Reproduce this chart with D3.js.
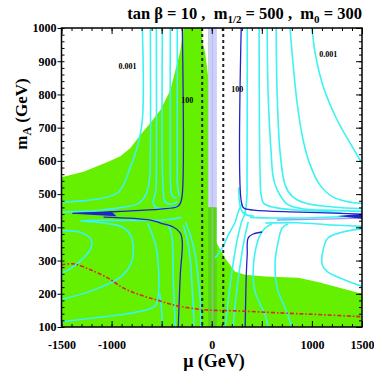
<!DOCTYPE html>
<html>
<head>
<meta charset="utf-8">
<script src="https://cdn.jsdelivr.net/npm/d3@7"></script>
<style>
body { margin: 0; background: #fff; }
text { font-family: "Liberation Serif", "Times New Roman", serif; font-weight: bold; }
</style>
</head>
<body>
<div id="chart"></div>
<script>

var width = 374;
var height = 376;

// axis ticks
var xTickLabels = [-1500, -1000, 0, 1000, 1500];
var yTickLabels = [100, 200, 300, 400, 500, 600, 700, 800, 900, 1000];

// white (allowed) regions, everything else in the frame is green
var whiteUpperLeft = [[-1500, 1000], [-1500, 551], [-1280, 567], [-1040, 597], [-912, 614], [-812, 639],
  [-713, 678], [-613, 714], [-513, 753], [-414, 813], [-344, 895], [-314, 930], [-284, 994], [-280, 1000]];
var whiteTopSliver = [[-95, 1000], [-35, 1000], [-35, 850], [-65, 925], [-95, 960]];
var whiteRight = [[45, 1000], [45, 400], [40, 358], [90, 330], [135, 306], [234, 266], [334, 257], [533, 252],
  [862, 248], [1050, 236], [1201, 224], [1350, 212], [1500, 200], [1500, 1000]];
var lavenderBand = [-35, 50];
var lavenderBottom = 460;

// contours
var cyanContours = [
  [[-693, 1000], [-693, 723], [-743, 642], [-812, 582], [-882, 527], [-932, 506], [-1042, 491], [-1211, 482], [-1500, 476]],
  [[-613, 1000], [-613, 620], [-622, 545], [-655, 500], [-730, 472], [-900, 460], [-1100, 452], [-1300, 448], [-1500, 446]],
  [[-553, 1000], [-553, 570], [-560, 505], [-585, 474], [-555, 460], [-450, 457], [-330, 463]],
  [[-493, 1000], [-493, 570], [-482, 505], [-470, 478], [-420, 470], [-340, 478]],
  [[-414, 1000], [-414, 600], [-410, 525], [-395, 495], [-350, 487]],
  [[-344, 1000], [-344, 620], [-340, 520], [-322, 495]],
  [[-1500, 390], [-1310, 385], [-1200, 360], [-1210, 335], [-1290, 305], [-1400, 278], [-1500, 262]],
  [[-1500, 183], [-1181, 211], [-912, 250], [-812, 287], [-782, 326], [-812, 377], [-892, 401], [-1081, 413],
   [-1250, 418], [-1310, 420], [-1000, 421], [-700, 421], [-450, 423], [-300, 430]],
  [[-1500, 116], [-1180, 127], [-842, 140], [-650, 152], [-560, 165], [-530, 205], [-530, 263], [-555, 341], [-613, 392], [-640, 412]],
  [[-493, 100], [-500, 150], [-518, 200]],
  [[-364, 100], [-384, 241], [-394, 362], [-414, 392], [-440, 410]],
  [[-110, 100], [-115, 181], [-135, 241], [-164, 317], [-214, 377], [-264, 416]],
  [[-174, 100], [-194, 211], [-214, 302], [-244, 362], [-284, 407]],
  // right side
  [[1002, 1000], [1032, 925], [1112, 825], [1252, 723], [1380, 654], [1500, 593]],
  [[782, 1000], [802, 925], [852, 775], [912, 663], [982, 588], [1081, 527], [1211, 491], [1400, 475], [1500, 472]],
  [[643, 1000], [653, 800], [683, 624], [733, 527], [802, 494], [932, 473], [1211, 461], [1500, 456]],
  [[553, 1000], [563, 800], [593, 624], [613, 552], [653, 513], [753, 470], [902, 456], [1200, 451], [1500, 448]],
  [[473, 1000], [476, 700], [483, 560], [492, 500], [520, 472], [620, 460], [850, 452], [1100, 448], [1300, 442]],
  [[354, 1000], [354, 700], [352, 560], [352, 500], [345, 470], [338, 452], [320, 438]],
  [[380, 430], [600, 428], [900, 428], [1200, 431], [1500, 433]],
  [[533, 413], [862, 414], [1200, 407], [1500, 403]],
  [[1500, 396], [1300, 385], [1160, 368], [1110, 330], [1105, 285], [1160, 265], [1300, 245], [1500, 222]],
  [[563, 100], [533, 136], [433, 205], [413, 257], [433, 326], [483, 377], [533, 398], [600, 410]],
  [[802, 100], [733, 157], [653, 217], [633, 296], [663, 356], [703, 398], [760, 410]],
  [[135, 100], [165, 181], [204, 272], [254, 362], [304, 422], [344, 446]],
  [[214, 100], [244, 196], [284, 287], [324, 362], [364, 416]],
  [[35, 308], [105, 338], [165, 377], [234, 416], [264, 446], [300, 470]],
  [[270, 520], [280, 470], [310, 445], [360, 436], [420, 434]]
];

var blueContours = [
  [[-294, 1000], [-294, 500], [-314, 472], [-344, 462], [-513, 455], [-912, 448], [-1111, 445], [-1390, 442]],
  [[-1080, 431], [-613, 422], [-513, 413], [-384, 401], [-314, 383], [-294, 356], [-314, 257], [-334, 100]],
  [[294, 1000], [294, 480], [320, 458], [420, 452], [880, 446], [1500, 440]],
  [[334, 100], [344, 250], [354, 317], [364, 368], [414, 380], [503, 386]]
];
var blueSpikes = [
  [[-1390, 443], [-1000, 447], [-950, 433], [-1390, 441]],
  [[1250, 434], [1500, 441], [1500, 426]]
];
var paleBlueContours = [
  [[650, 422], [1000, 424], [1500, 428]]
];

var redLine = [[-1500, 287], [-1380, 290], [-1210, 272], [-1040, 248], [-880, 217], [-710, 196], [-545, 181],
  [-380, 166], [-215, 157], [-45, 151], [200, 149], [715, 142], [1100, 137], [1500, 131]];

var dashedMu = [-95, 115];

var contourLabels = [
  {mu: -842, mA: 877, text: "0.001"},
  {mu: 1163, mA: 913, text: "0.001"},
  {mu: -244, mA: 774, text: "100"},
  {mu: 254, mA: 807, text: "100"}
];

// svg container
var svg = d3.select("#chart").append("svg")
  .attr("width", width)
  .attr("height", height);

var x = d3.scaleLinear().domain([-1500, 1500]).range([61.5, 362]);
var y = d3.scaleLinear().domain([100, 1000]).range([327, 28]);

svg.append("defs").append("clipPath").attr("id", "clip")
  .append("rect")
  .attr("x", x(-1500)).attr("y", y(1000))
  .attr("width", x(1500) - x(-1500)).attr("height", y(100) - y(1000));

var plot = svg.append("g").attr("clip-path", "url(#clip)");

var poly = d3.line().x(function(d) { return x(d[0]); }).y(function(d) { return y(d[1]); }).curve(d3.curveLinearClosed);
var curve = d3.line().x(function(d) { return x(d[0]); }).y(function(d) { return y(d[1]); }).curve(d3.curveCatmullRom.alpha(0.5));

// green background
plot.append("rect")
  .attr("x", x(-1500)).attr("y", y(1000))
  .attr("width", x(1500) - x(-1500)).attr("height", y(100) - y(1000))
  .attr("fill", "#64f000");

[whiteUpperLeft, whiteTopSliver, whiteRight].forEach(function(p) {
  plot.append("path").attr("d", poly(p)).attr("fill", "#fff");
});

// central band
plot.append("rect")
  .attr("x", x(lavenderBand[0])).attr("y", y(1000))
  .attr("width", x(lavenderBand[1]) - x(lavenderBand[0]))
  .attr("height", y(lavenderBottom) - y(1000))
  .attr("fill", "#cfcfff");
plot.append("rect")
  .attr("x", x(0)).attr("y", y(1000))
  .attr("width", x(12) - x(0))
  .attr("height", y(lavenderBottom) - y(1000))
  .attr("fill", "#bcbcee");
plot.append("rect")
  .attr("x", x(lavenderBand[0])).attr("y", y(lavenderBottom))
  .attr("width", x(lavenderBand[1]) - x(lavenderBand[0]))
  .attr("height", y(100) - y(lavenderBottom))
  .attr("fill", "#58d41c");
plot.append("rect")
  .attr("x", x(0)).attr("y", y(lavenderBottom))
  .attr("width", x(15) - x(0))
  .attr("height", y(100) - y(lavenderBottom))
  .attr("fill", "#82cc66");

// contours
cyanContours.forEach(function(c) {
  plot.append("path").attr("d", curve(c))
    .attr("fill", "none").attr("stroke", "#3cf2f2").attr("stroke-width", 1.6);
});
paleBlueContours.forEach(function(c) {
  plot.append("path").attr("d", curve(c))
    .attr("fill", "none").attr("stroke", "#9a9af0").attr("stroke-width", 1.3);
});
blueContours.forEach(function(c) {
  plot.append("path").attr("d", curve(c))
    .attr("fill", "none").attr("stroke", "#2222cc").attr("stroke-width", 1.3);
});
blueSpikes.forEach(function(p) {
  plot.append("path").attr("d", poly(p)).attr("fill", "#2222cc");
});

// red dash-dot line
plot.append("path").attr("d", curve(redLine))
  .attr("fill", "none").attr("stroke", "#e8202a").attr("stroke-width", 1.6)
  .attr("stroke-dasharray", "4,2,1.5,2");

// dashed verticals
dashedMu.forEach(function(m) {
  plot.append("line")
    .attr("x1", x(m)).attr("x2", x(m)).attr("y1", y(1000)).attr("y2", y(100))
    .attr("stroke", "#222").attr("stroke-width", 2).attr("stroke-dasharray", "3,3");
});

// contour labels
contourLabels.forEach(function(l) {
  svg.append("text").attr("x", x(l.mu)).attr("y", y(l.mA))
    .attr("text-anchor", "middle").attr("font-size", 8).text(l.text);
});

// axes
svg.append("g").attr("transform", "translate(0," + y(100) + ")")
  .call(d3.axisBottom(x).tickValues(d3.range(-1500, 1501, 100)).tickSize(-3).tickFormat(""));
svg.append("g").attr("transform", "translate(0," + y(100) + ")")
  .call(d3.axisBottom(x).tickValues(d3.range(-1500, 1501, 500)).tickSize(-6).tickPadding(13)
    .tickFormat(function(d) { return xTickLabels.indexOf(d) >= 0 ? String(d) : ""; }));
svg.append("g").attr("transform", "translate(0," + y(1000) + ")")
  .call(d3.axisTop(x).tickValues(d3.range(-1500, 1501, 100)).tickSize(-3).tickFormat(""));
svg.append("g").attr("transform", "translate(0," + y(1000) + ")")
  .call(d3.axisTop(x).tickValues(d3.range(-1500, 1501, 500)).tickSize(-6).tickFormat(""));
svg.append("g").attr("transform", "translate(" + x(-1500) + ",0)")
  .call(d3.axisLeft(y).tickValues(d3.range(100, 1001, 20)).tickSize(-3).tickFormat(""));
svg.append("g").attr("transform", "translate(" + x(-1500) + ",0)")
  .call(d3.axisLeft(y).tickValues(yTickLabels).tickSize(4).tickPadding(1)
    .tickFormat(function(d) { return String(d); }));
svg.append("g").attr("transform", "translate(" + x(1500) + ",0)")
  .call(d3.axisRight(y).tickValues(d3.range(100, 1001, 20)).tickSize(-3).tickFormat(""));
svg.append("g").attr("transform", "translate(" + x(1500) + ",0)")
  .call(d3.axisRight(y).tickValues(yTickLabels).tickSize(-6).tickFormat(""));

svg.selectAll(".tick text")
  .attr("font-family", "Liberation Serif, serif").attr("font-weight", "bold").attr("font-size", 12).attr("fill", "#000");
svg.selectAll(".domain").remove();

svg.append("rect")
  .attr("x", x(-1500)).attr("y", y(1000))
  .attr("width", x(1500) - x(-1500)).attr("height", y(100) - y(1000))
  .attr("fill", "none").attr("stroke", "#000").attr("stroke-width", 1.5);

// title
var title = svg.append("text").attr("x", 362).attr("y", 19)
  .attr("text-anchor", "end").attr("font-size", 16.5).style("white-space", "pre");
title.append("tspan").text("tan \u03b2 = 10 ,  m");
title.append("tspan").attr("font-size", 11).attr("dy", 4).text("1/2");
title.append("tspan").attr("dy", -4).text(" = 500 ,  m");
title.append("tspan").attr("font-size", 11).attr("dy", 4).text("0");
title.append("tspan").attr("dy", -4).text(" = 300");

// axis titles
var yTitle = svg.append("text")
  .attr("transform", "translate(27,114)rotate(-90)")
  .attr("text-anchor", "middle").attr("font-size", 17).style("white-space", "pre");
yTitle.append("tspan").text("m");
yTitle.append("tspan").attr("font-size", 12).attr("dy", 4).text("A");
yTitle.append("tspan").attr("dy", -4).text(" (GeV)");

svg.append("text").attr("x", 214).attr("y", 367)
  .attr("text-anchor", "middle").attr("font-size", 18)
  .text("\u03bc (GeV)");

</script>
</body>
</html>
